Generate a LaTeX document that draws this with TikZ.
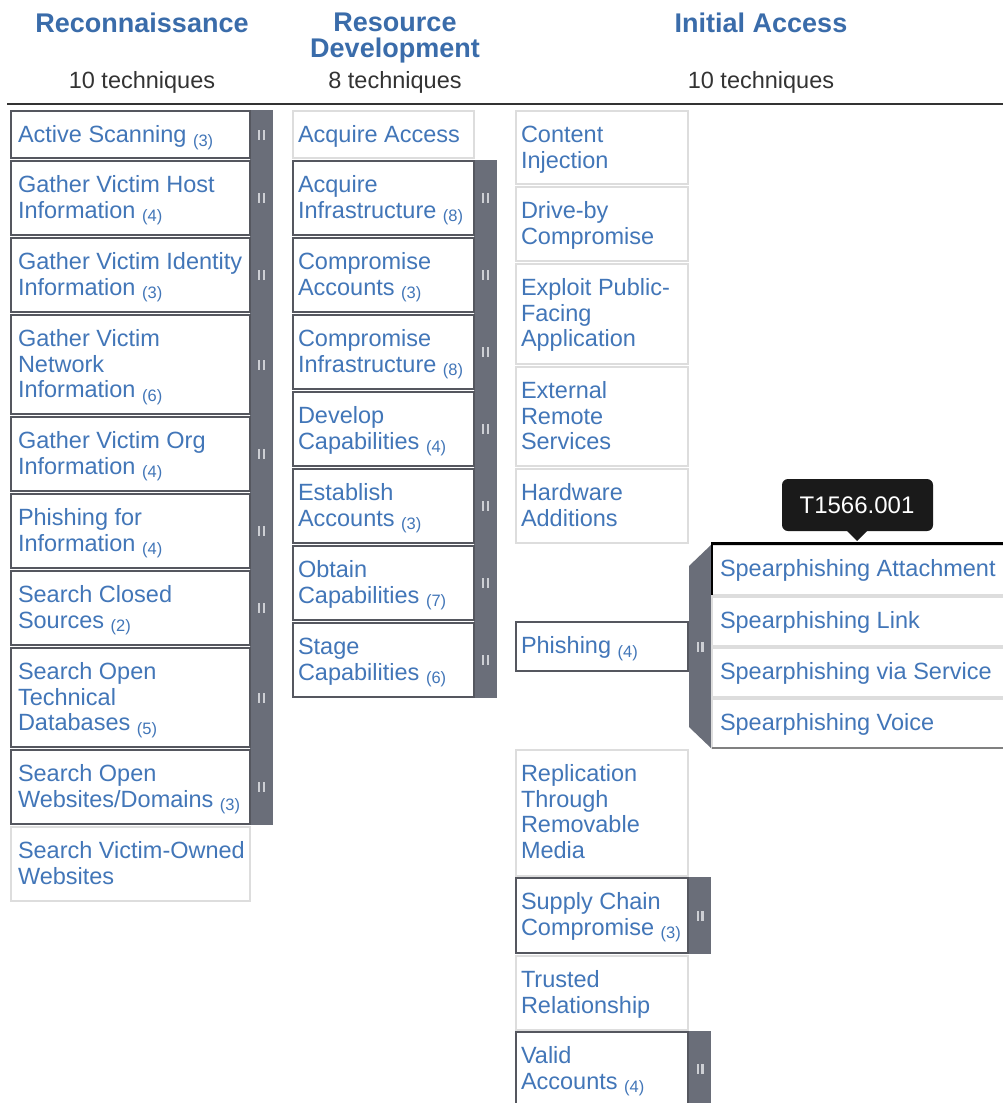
\documentclass[tikz,border=0pt]{standalone}
\usepackage{fontspec}
\setmainfont{Liberation Sans}
\usetikzlibrary{calc}

\definecolor{titleblue}{RGB}{58,108,170}
\definecolor{textblue}{RGB}{66,118,184}
\definecolor{headgray}{RGB}{51,51,51}
\definecolor{darkedge}{RGB}{85,87,95}
\definecolor{lightedge}{RGB}{221,221,221}
\definecolor{sidebar}{RGB}{106,110,121}
\definecolor{grip}{RGB}{205,207,212}
\definecolor{tipbg}{RGB}{26,26,26}

\tikzset{
  lightbox/.style={draw=lightedge, line width=2pt, fill=white, inner sep=0pt, outer sep=0pt},
  darkbox/.style={draw=darkedge, line width=2pt, fill=white, inner sep=0pt, outer sep=0pt},
  techtext/.style={inner sep=0pt, outer sep=0pt, text=textblue,
    font=\fontsize{23.5}{25.5}\selectfont},
  tactic/.style={inner sep=0pt, anchor=base, text=titleblue,
    font=\fontsize{27}{26}\selectfont\bfseries},
  count/.style={inner sep=0pt, anchor=base, text=headgray,
    font=\fontsize{23.5}{25.5}\selectfont},
  sidefill/.style={fill=sidebar},
}

% count of sub-techniques, set small and dropped below the baseline
\newcommand\cnt[1]{~{\fontsize{16.5}{16}\selectfont\raisebox{-3.5pt}{(#1)}}}

% left text indent inside a cell, set per column
\def\txoff{7}

% technique cell: name, style, left x, top y, bottom y, width, text
\newcommand\tbox[7]{%
  \node[#2, minimum width=#6, minimum height=#5-#4, anchor=north west] (#1) at (#3,#4) {};
  \node[techtext, anchor=base west] (#1-t) at ($(#1.north west)+(\txoff,31.5)$)
    {\parbox[t]{400pt}{\raggedright #7}};
}

% two-bar grip drawn on a sidebar
\newcommand\grip[2]{%
  \fill[grip] ({#1-3.5},{#2-5}) rectangle ({#1-1.3},{#2+5});
  \fill[grip] ({#1+1.3},{#2-5}) rectangle ({#1+3.5},{#2+5});
}

\begin{document}
\begin{tikzpicture}[x=1pt,y=-1pt]
\useasboundingbox (0,0) rectangle (1003,1103);
\fill[white] (0,0) rectangle (1003,1103);
\clip (0,0) rectangle (1003,1103);

% ---------- tactic headers ----------
\node[tactic] (h-recon) at (142,32) {Reconnaissance};
\node[count]  (n-recon) at (142,88.5) {10 techniques};
\node[tactic] (h-res1) at (395,31.5) {Resource};
\node[tactic] (h-res2) at (395,57) {Development};
\node[count]  (n-res)  at (395,88.5) {8 techniques};
\node[tactic] (h-ia)   at (761,32) {Initial Access};
\node[count]  (n-ia)   at (761,88.5) {10 techniques};
\draw[headgray, line width=2pt] (7,104) -- (1003,104);

% ---------- Reconnaissance ----------
\def\txoff{7}
\fill[sidefill] (250,110) rectangle (273,825);
\tbox{r1}{darkbox}{11}{111}{158}{239}{Active Scanning\cnt{3}}
\tbox{r2}{darkbox}{11}{161}{235}{239}{Gather Victim Host\\Information\cnt{4}}
\tbox{r3}{darkbox}{11}{238}{312}{239}{Gather Victim Identity\\Information\cnt{3}}
\tbox{r4}{darkbox}{11}{315}{414}{239}{Gather Victim\\Network\\Information\cnt{6}}
\tbox{r5}{darkbox}{11}{417}{491}{239}{Gather Victim Org\\Information\cnt{4}}
\tbox{r6}{darkbox}{11}{494}{568}{239}{Phishing for\\Information\cnt{4}}
\tbox{r7}{darkbox}{11}{571}{645}{239}{Search Closed\\Sources\cnt{2}}
\tbox{r8}{darkbox}{11}{648}{747}{239}{Search Open\\Technical\\Databases\cnt{5}}
\tbox{r9}{darkbox}{11}{750}{824}{239}{Search Open\\Websites/Domains\cnt{3}}
\tbox{r10}{lightbox}{11}{827}{901}{239}{Search Victim-Owned\\Websites}
\foreach \yc in {134.5,198,275,364.5,454,531,608,697.5,787}
  {\grip{261.5}{\yc}}

% ---------- Resource Development ----------
\def\txoff{5}
\fill[sidefill] (474,160) rectangle (497,698);
\tbox{d1}{lightbox}{293}{111}{158}{181}{Acquire Access}
\tbox{d2}{darkbox}{293}{161}{235}{181}{Acquire\\Infrastructure\cnt{8}}
\tbox{d3}{darkbox}{293}{238}{312}{181}{Compromise\\Accounts\cnt{3}}
\tbox{d4}{darkbox}{293}{315}{389}{181}{Compromise\\Infrastructure\cnt{8}}
\tbox{d5}{darkbox}{293}{392}{466}{181}{Develop\\Capabilities\cnt{4}}
\tbox{d6}{darkbox}{293}{469}{543}{181}{Establish\\Accounts\cnt{3}}
\tbox{d7}{darkbox}{293}{546}{620}{181}{Obtain\\Capabilities\cnt{7}}
\tbox{d8}{darkbox}{293}{623}{697}{181}{Stage\\Capabilities\cnt{6}}
\foreach \yc in {198,275,352,429,506,583,660}
  {\grip{485.5}{\yc}}

% ---------- Initial Access ----------
\tbox{i1}{lightbox}{516}{111}{184}{172}{Content\\Injection}
\tbox{i2}{lightbox}{516}{187}{261}{172}{Drive-by\\Compromise}
\tbox{i3}{lightbox}{516}{264}{364}{172}{Exploit Public-\\Facing\\Application}
\tbox{i4}{lightbox}{516}{367}{466}{172}{External\\Remote\\Services}
\tbox{i5}{lightbox}{516}{469}{543}{172}{Hardware\\Additions}

% Phishing with its opened sub-technique panel
\fill[sidefill] (689,566) -- (712,544) -- (712,749) -- (689,727) -- cycle;
\grip{700}{647}
\tbox{i6}{darkbox}{516}{622}{671}{172}{Phishing\cnt{4}}

\def\txoff{8}
\tbox{s1}{lightbox}{712}{545}{595}{320}{Spearphishing Attachment}
\tbox{s2}{lightbox}{712}{597}{646}{320}{Spearphishing Link}
\tbox{s3}{lightbox}{712}{648}{697}{320}{Spearphishing via Service}
\tbox{s4}{lightbox}{712}{699}{748}{320}{Spearphishing Voice}
\draw[gray, line width=1.5pt] (s4.south west) -- (s4.south east);
% highlighted cell
\draw[black, line width=3pt] (711,543.5) -- (1010,543.5);
\draw[black, line width=2pt] (s1.north west) -- (s1.south west);

\def\txoff{5}
\tbox{i7}{lightbox}{516}{750}{876}{172}{Replication\\Through\\Removable\\Media}
\fill[sidefill] (688,877) rectangle (711,954);
\tbox{i8}{darkbox}{516}{878}{953}{172}{Supply Chain\\Compromise\cnt{3}}
\grip{700}{915.5}
\tbox{i9}{lightbox}{516}{956}{1030}{172}{Trusted\\Relationship}
\fill[sidefill] (688,1031) rectangle (711,1110);
\tbox{i10}{darkbox}{516}{1032}{1112}{172}{Valid\\Accounts\cnt{4}}
\grip{700}{1069}

% tooltip above the highlighted sub-technique
\fill[tipbg, rounded corners=6pt] (782,479) rectangle (933,531);
\fill[tipbg] (846,530) -- (868,530) -- (857,541) -- cycle;
\node[inner sep=0pt, anchor=base, text=white, font=\fontsize{24}{24}\selectfont]
  (tip) at (857,513) {T1566.001};
\end{tikzpicture}
\end{document}
